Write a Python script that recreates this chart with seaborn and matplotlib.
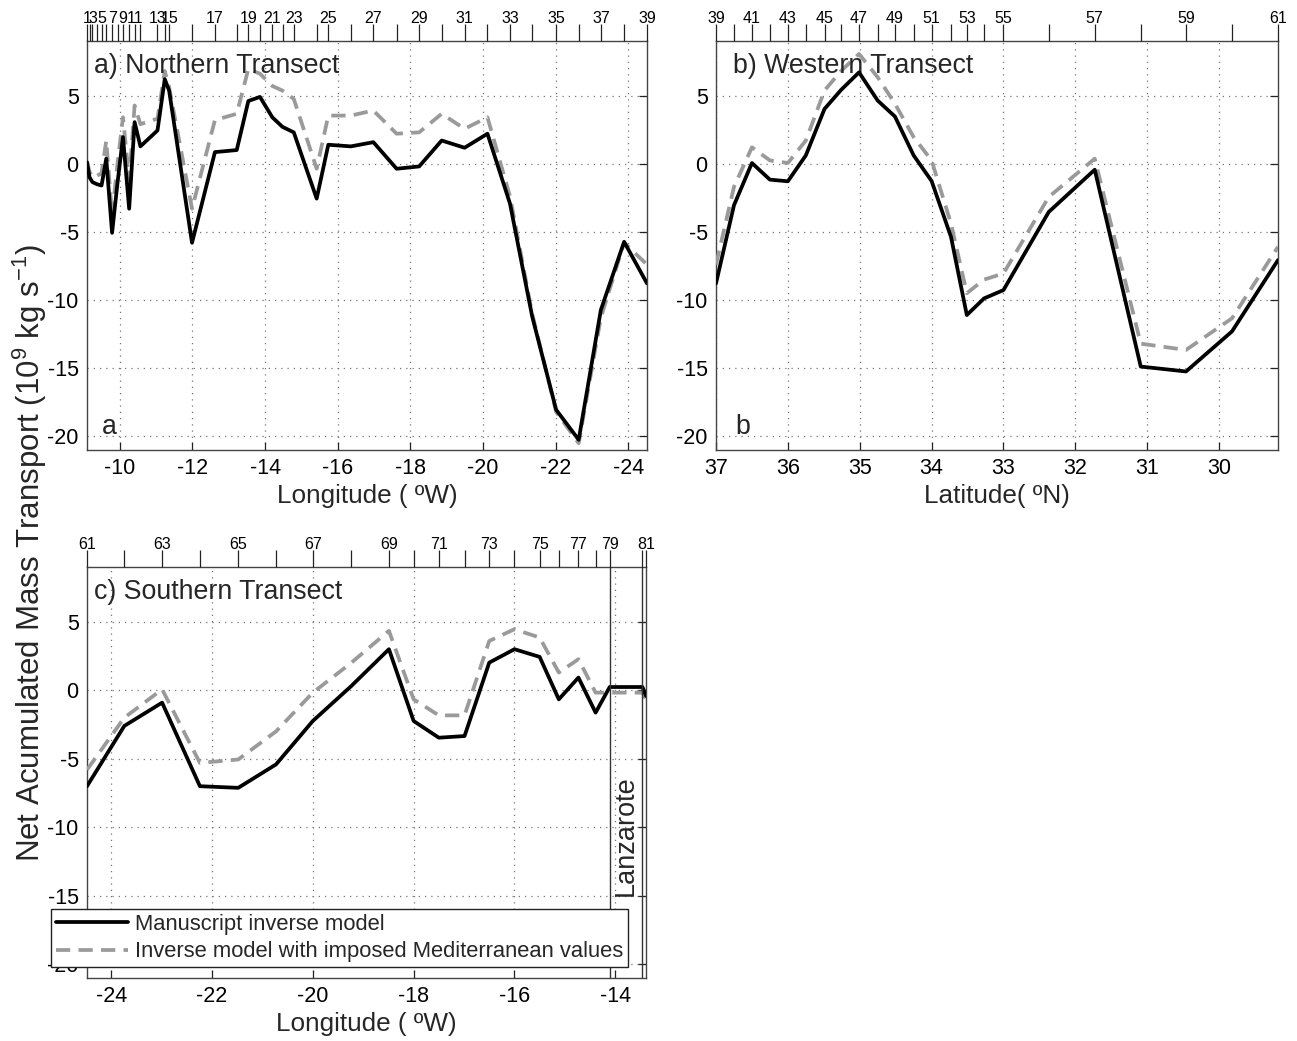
import numpy as np
import pandas as pd
import matplotlib
matplotlib.use("Agg")
import matplotlib.pyplot as plt
import seaborn as sns

# ---------------- data ----------------
# a) Northern transect, stations 1-39
stations_a = list(range(1, 40))
lon_a = [-9.10, -9.17, -9.25, -9.37, -9.50, -9.63, -9.79, -9.94, -10.09, -10.26,
         -10.41, -10.57, -11.04, -11.24, -11.36, -11.99, -12.62, -13.22, -13.54, -13.86,
         -14.20, -14.48, -14.79, -15.42, -15.74, -16.36, -16.98, -17.62, -18.24, -18.86,
         -19.49, -20.12, -20.74, -21.35, -22.01, -22.63, -23.24, -23.88, -24.51]
inv_a = [0.1, -1.0, -1.35, -1.5, -1.6, 0.37, -5.07, -1.4, 1.95, -3.3,
         3.05, 1.27, 2.44, 6.2, 5.36, -5.8, 0.85, 1.0, 4.6, 4.9,
         3.4, 2.7, 2.3, -2.56, 1.39, 1.27, 1.58, -0.37, -0.2, 1.7,
         1.17, 2.2, -2.93, -11.2, -18.05, -20.25, -10.73, -5.73, -8.78]
med_a = [0.2, -0.6, -1.0, -0.9, -0.7, 1.7, -3.8, 0.0, 3.4, -1.2,
         4.27, 2.9, 3.3, 6.8, 5.6, -3.3, 3.2, 3.66, 6.95, 6.6,
         5.7, 5.36, 4.75, -0.37, 3.53, 3.53, 3.9, 2.2, 2.3, 3.66,
         2.56, 3.4, -2.4, -11.0, -18.2, -20.5, -11.3, -5.8, -7.4]

# b) Western transect, stations 39-61
stations_b = list(range(39, 62))
lat_b = [37.0, 36.75, 36.5, 36.25, 36.0, 35.75, 35.49, 35.26, 35.01, 34.75,
         34.51, 34.25, 34.0, 33.73, 33.51, 33.27, 33.0, 32.37, 31.73, 31.09,
         30.46, 29.82, 29.18]
inv_b = [-8.78, -3.05, 0.05, -1.17, -1.29, 0.61, 4.02, 5.41, 6.7, 4.63,
         3.46, 0.61, -1.27, -5.37, -11.1, -9.88, -9.27, -3.54, -0.44, -14.88,
         -15.24, -12.3, -7.07]
med_b = [-7.4, -1.7, 1.2, 0.24, 0.05, 1.7, 5.37, 6.8, 8.05, 6.34,
         4.4, 1.95, 0.24, -4.4, -9.5, -8.5, -8.05, -2.44, 0.37, -13.2,
         -13.66, -11.34, -6.1]

# c) Southern transect, stations 61-81
stations_c = list(range(61, 82))
lon_c = [-24.48, -23.74, -22.99, -22.24, -21.48, -20.73, -20.0, -19.24, -18.49, -18.0,
         -17.50, -16.99, -16.50, -16.0, -15.50, -15.12, -14.73, -14.39, -14.11, -13.46,
         -13.39]
inv_c = [-7.0, -2.6, -0.9, -7.0, -7.12, -5.41, -2.24, 0.3, 3.0, -2.24,
         -3.46, -3.34, 2.02, 3.0, 2.44, -0.66, 0.93, -1.63, 0.24, 0.24,
         -0.41]
med_c = [-5.8, -2.0, 0.07, -5.3, -5.05, -3.0, -0.17, 2.0, 4.34, -0.66,
         -1.83, -1.83, 3.6, 4.46, 3.85, 1.3, 2.27, -0.17, -0.17, -0.17,
         -0.66]

yticks = [-20, -15, -10, -5, 0, 5]
xticks_a = [-10, -12, -14, -16, -18, -20, -22, -24]
xticks_b = [37, 36, 35, 34, 33, 32, 31, 30]
xticks_c = [-24, -22, -20, -18, -16, -14]
lanzarote_bounds = [-14.11, -13.46]

label_inv = "Manuscript inverse model"
label_med = "Inverse model with imposed Mediterranean values"

# ---------------- style ----------------
sns.set_theme(style="white")
plt.rcParams['font.family'] = ['Liberation Sans', 'DejaVu Sans']
plt.rcParams['mathtext.fontset'] = 'custom'
plt.rcParams['mathtext.rm'] = 'Liberation Sans'
plt.rcParams['mathtext.it'] = 'Liberation Sans'
plt.rcParams['mathtext.default'] = 'regular'
plt.rcParams['axes.unicode_minus'] = True

W, H = 1297, 1041
fig = plt.figure(figsize=(W / 100, H / 100), dpi=100)

def fx(px):
    return px / W

def rect(l, r, t, b):
    return [l / W, 1 - b / H, (r - l) / W, (b - t) / H]

ax_a = fig.add_axes(rect(87, 647, 41, 450))
ax_b = fig.add_axes(rect(716, 1278, 41, 450))
ax_c = fig.add_axes(rect(87, 646, 567, 978))

BLACK = "black"
GREY = "#9a9a9a"
LW = 2.7

def draw(ax, x, y1, y2):
    df = pd.DataFrame({"x": x, "inv": y1, "med": y2})
    sns.lineplot(data=df, x="x", y="med", ax=ax, sort=False, estimator=None,
                 color=GREY, lw=LW, linestyle=(0, (3.8, 2.2)), label=label_med,
                 zorder=3)
    sns.lineplot(data=df, x="x", y="inv", ax=ax, sort=False, estimator=None,
                 color=BLACK, lw=LW, label=label_inv, zorder=4)
    leg = ax.get_legend()
    if leg is not None:
        leg.remove()

def style(ax, xlim, xticks, stations, spos, xlabel):
    ax.set_xlim(*xlim)
    ax.set_ylim(-21, 9)
    ax.set_xticks(xticks)
    ax.set_xticklabels([str(t) for t in xticks])
    ax.set_yticks(yticks)
    ax.set_yticklabels([str(t) for t in yticks])
    ax.tick_params(axis='both', which='major', direction='in', length=6, width=0.9,
                   top=True, right=True, labelsize=15.5, pad=6, colors='#222222',
                   labelcolor='black')
    ax.grid(True, linestyle=(0, (1, 4)), color='#777777', linewidth=0.9)
    for s in ax.spines.values():
        s.set_color('#444444')
        s.set_linewidth(1.0)
    ax.set_xlabel(xlabel, fontsize=18.8, labelpad=3)
    ax.set_ylabel("")
    # station axis on top
    ax2 = ax.twiny()
    ax2.set_xlim(ax.get_xlim())
    ax2.set_xticks(spos)
    ax2.set_xticklabels([str(s) if s % 2 == 1 else "" for s in stations])
    ax2.tick_params(axis='x', direction='out', length=12, width=0.9, pad=-1,
                    labelsize=11.5, colors='#222222', labelcolor='black')
    ax2.grid(False)
    for s in ax2.spines.values():
        s.set_visible(False)
    return ax2

draw(ax_a, lon_a, inv_a, med_a)
style(ax_a, (lon_a[0], lon_a[-1]), xticks_a, stations_a, lon_a, "Longitude ( ºW)")
ax_a.text(0.013, 0.97, "a) Northern Transect", transform=ax_a.transAxes,
          fontsize=19.3, va='top', ha='left')
ax_a.text(0.027, 0.025, "a", transform=ax_a.transAxes, fontsize=19.3,
          va='bottom', ha='left')

draw(ax_b, lat_b, inv_b, med_b)
style(ax_b, (lat_b[0], lat_b[-1]), xticks_b, stations_b, lat_b, "Latitude( ºN)")
ax_b.text(0.03, 0.97, "b) Western Transect", transform=ax_b.transAxes,
          fontsize=19.3, va='top', ha='left')
ax_b.text(0.035, 0.025, "b", transform=ax_b.transAxes, fontsize=19.3,
          va='bottom', ha='left')

draw(ax_c, lon_c, inv_c, med_c)
style(ax_c, (lon_c[0], lon_c[-1]), xticks_c, stations_c, lon_c, "Longitude ( ºW)")
ax_c.text(0.013, 0.97, "c) Southern Transect", transform=ax_c.transAxes,
          fontsize=19.3, va='top', ha='left')
for xb in lanzarote_bounds:
    ax_c.axvline(xb, color='#333333', lw=1.0, zorder=5)
ax_c.text(np.mean(lanzarote_bounds), -10.6, "Lanzarote", rotation=90,
          fontsize=19.5, ha='center', va='center', zorder=6)

# legend
h, l = ax_c.get_lines()[1], ax_c.get_lines()[0]
leg = ax_c.legend([h, l], [label_inv, label_med], loc='lower left',
                  bbox_to_anchor=(fx(51), 1 - 967 / H), bbox_transform=fig.transFigure,
                  fontsize=15.8, frameon=True, fancybox=False, framealpha=1,
                  edgecolor='#222222', handlelength=3.3, handletextpad=0.32,
                  borderpad=0.22, labelspacing=0.3, borderaxespad=0,
                  handleheight=0.6)
leg.get_frame().set_linewidth(1.0)
leg.set_zorder(10)

fig.text(fx(30), 1 - 553 / H,
         "Net Acumulated Mass Transport (10$^9$ kg s$^{-1}$)",
         rotation=90, fontsize=22.5, ha='center', va='center')

fig.savefig("out.png", dpi=100)
